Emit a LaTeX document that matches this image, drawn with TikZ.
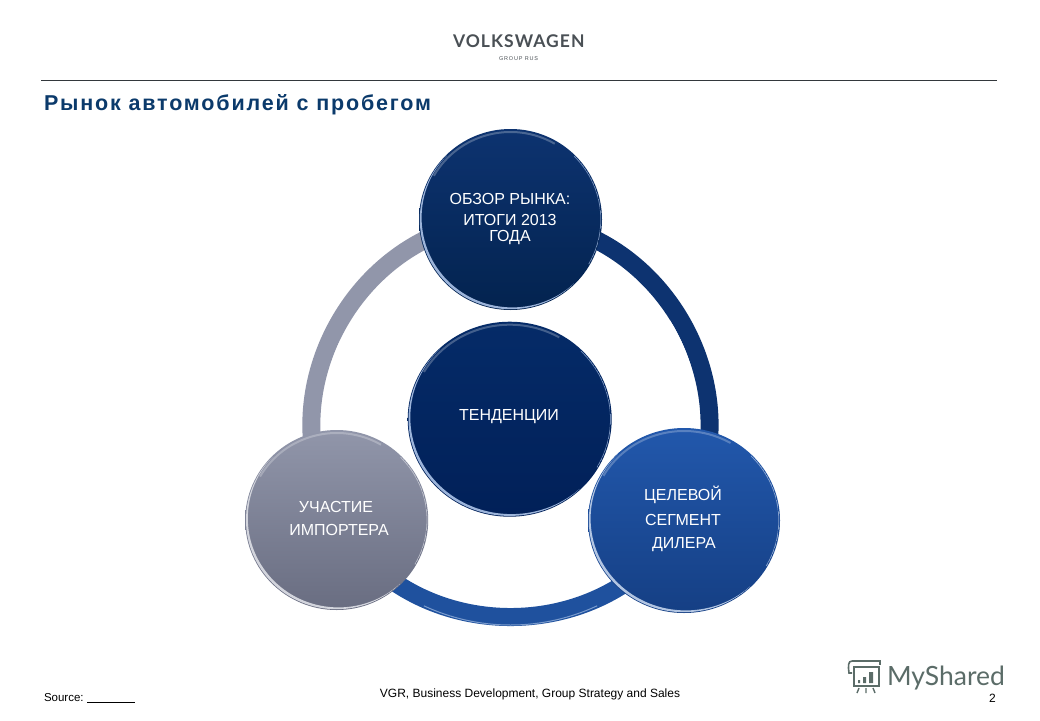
\documentclass[tikz,border=0pt]{standalone}
\usepackage{fontspec}
\usetikzlibrary{shapes.geometric}
\setmainfont{Liberation Sans}
\newfontfamily\vwfont[LetterSpace=6]{Lato}
\newfontfamily\msfont{Lato}
\newfontfamily\titlefont[LetterSpace=8.5]{Liberation Sans}
\definecolor{titleblue}{HTML}{0B3A6B}
\definecolor{ruleC}{HTML}{33383C}
\definecolor{logoC}{HTML}{4A5055}
\definecolor{msC}{HTML}{5B6C68}
\definecolor{navyA}{HTML}{0D3370}
\definecolor{navyB}{HTML}{03234F}
\definecolor{midA}{HTML}{052B68}
\definecolor{midB}{HTML}{012058}
\definecolor{blueA}{HTML}{2258AC}
\definecolor{blueB}{HTML}{153F84}
\definecolor{grayA}{HTML}{9196AA}
\definecolor{grayB}{HTML}{696D81}
\pgfdeclarelayer{back}
\pgfsetlayers{back,main}
\tikzset{
  x=1pt,y=-1pt,
  orb/.style n args={4}{ellipse,inner sep=0pt,outer sep=0pt,minimum width=#1*2pt,minimum height=#2*2pt,top color=#3,bottom color=#4},
  orbtext/.style={text=white,font=\fontsize{16}{18}\selectfont,inner sep=0pt},
  ringline/.style={line width=18pt,line cap=butt},
  arcside/.style={bend left=60,looseness=1.10},
  plain/.style={inner sep=0pt,outer sep=0pt,anchor=base west},
  msline/.style={draw=msC,line width=1.6pt}
}
% name, rx, ry, rim colour
\newcommand{\orbdeco}[4]{%
  \begin{scope}
    \clip (#1.center) ellipse [x radius={#2-.8},y radius={#3-.8}];
    \begin{scope}
      \clip ([shift={(-220,-220)}]#1.center) -- ([shift={(220,220)}]#1.center) -- ([shift={(-220,220)}]#1.center) -- cycle;
      \fill[#4,even odd rule] (#1.center) ellipse [x radius={#2-.8},y radius={#3-.8}] ([shift={(1.8,-1.8)}]#1.center) ellipse [x radius={#2-.8},y radius={#3-.8}];
    \end{scope}
    \draw[white,opacity=.25,line width=2pt] ([shift={(-150:#2-3 and #3-3)}]#1.center) arc[start angle=-150,end angle=-60,x radius={#2-3},y radius={#3-3}];
    \draw[#4,opacity=.7,line width=.8pt] ([shift={(-45:#2-1.2 and #3-1.2)}]#1.center) arc[start angle=-45,end angle=30,x radius={#2-1.2},y radius={#3-1.2}];
  \end{scope}
}
\begin{document}
\begin{tikzpicture}
\useasboundingbox (0,0) rectangle (1040,720);
\begin{pgfonlayer}{back}
\fill[white] (0,0) rectangle (1040,720);
\end{pgfonlayer}
% header
\node[plain] (vw) at (453,47) {\vwfont\bfseries\fontsize{17.5}{18}\selectfont\textcolor{logoC}{VOLKSWAGEN}};
\node[plain] (rus) at (499,60.5) {\fontsize{5.5}{6}\selectfont\addfontfeature{LetterSpace=15}\textcolor{logoC}{GROUP RUS}};
\coordinate (ruleL) at (41,80);
\coordinate (ruleR) at (997,80);
\draw[ruleC,line width=.8pt] (ruleL) -- (ruleR);
\node[plain] (title) at (44,110) {\titlefont\bfseries\fontsize{21.5}{24}\selectfont\textcolor{titleblue}{Рынок автомобилей с пробегом}};
% discs
\coordinate (ringc) at (510.5,420);
\node[orb={91.5}{90.5}{navyA}{navyB}] (top) at (510.5,219.5) {};
\node[orb={102}{97.5}{midA}{midB}] (mid) at (509.7,419.2) {};
\node[orb={96}{92.5}{blueA}{blueB}] (right) at (684,520.5) {};
\node[orb={91.5}{90}{grayA}{grayB}] (left) at (336.7,520) {};
% ring
\begin{pgfonlayer}{back}
\draw[ringline,color=navyA] (top.center) to[arcside] (right.center);
\draw[ringline,color=blueA!92!black] (right.center) to[arcside] (left.center);
\draw[ringline,color=grayA] (left.center) to[arcside] (top.center);
\draw[white,line width=1.1pt] ([shift={(-32:187.5)}]ringc) arc[start angle=-32,end angle=-2,radius=187.5];
\draw[white,line width=1.1pt] ([shift={(180:187.5)}]ringc) arc[start angle=180,end angle=205,radius=187.5];
\draw[blueA!60!white,line width=1pt] ([shift={(65:205)}]ringc) arc[start angle=65,end angle=115,radius=205];
\end{pgfonlayer}
\orbdeco{top}{91.5}{90.5}{blueA!45!white}
\orbdeco{mid}{102}{97.5}{blueA!45!white}
\orbdeco{right}{96}{92.5}{blueA!35!white}
\orbdeco{left}{91.5}{90}{grayA!40!white}
% circle texts
\node[orbtext] (t1) at (510,199) {ОБЗОР РЫНКА:};
\node[orbtext] (t2) at (510,220) {ИТОГИ 2013};
\node[orbtext] (t3) at (510,238) {ГОДА};
\node[orbtext] (m1) at (509,417) {ТЕНДЕНЦИИ};
\node[orbtext] (r1) at (683,495) {ЦЕЛЕВОЙ};
\node[orbtext] (r2) at (683,520) {СЕГМЕНТ};
\node[orbtext] (r3) at (684,545) {ДИЛЕРА};
\node[orbtext] (l1) at (336,507) {УЧАСТИЕ};
\node[orbtext] (l2) at (339,530) {ИМПОРТЕРА};
% footer
\node[plain] (src) at (44,701) {\fontsize{11.5}{13}\selectfont Source:};
\coordinate (srcA) at (87,702);
\coordinate (srcB) at (135,702);
\draw[black,line width=.8pt] (srcA) -- (srcB);
\node[plain,anchor=base] (vgr) at (530,697) {\fontsize{12}{13}\selectfont VGR, Business Development, Group Strategy and Sales};
% MyShared
\draw[msline] (852,661) -- (880,661) -- (880,665) (854,667) -- (879,667) -- (879,686) -- (854,686) -- cycle;
\draw[msline] (852,661) .. controls (848,661) and (848,666) .. (849,673) -- (852,673);
\fill[msC] (858,680) rectangle (860,683) (863,677) rectangle (866,683) (869,672) rectangle (873,683);
\draw[msline,line width=1.4pt] (859,688) -- (857,693) (866,688) -- (866,693) (873,688) -- (875,693);
\node[plain] (ms) at (887,685) {\msfont\fontsize{26.5}{30}\selectfont\textcolor{msC}{MyShared}};
\node[plain] (pg) at (989,702) {\fontsize{12}{14}\selectfont 2};
\end{tikzpicture}
\end{document}
